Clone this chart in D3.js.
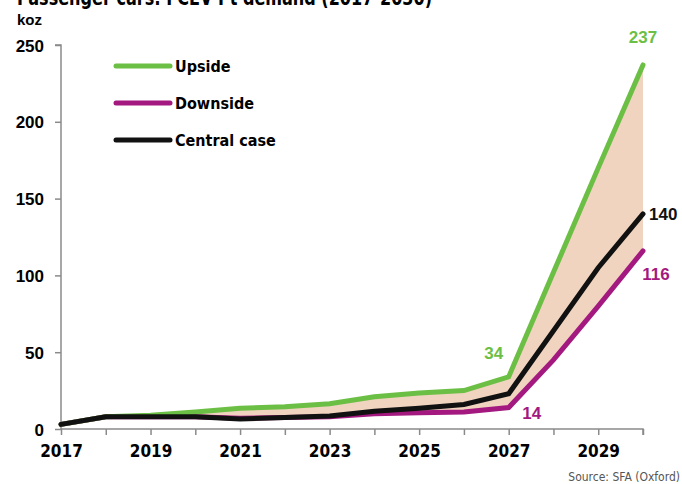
<!DOCTYPE html>
<html>
<head>
<meta charset="utf-8">
<script src="https://cdn.jsdelivr.net/npm/d3@7"></script>
<style>
body { margin: 0; background: #fff; }
svg { display: block; }
.narrow { font-family: 'DejaVu Sans Condensed', 'DejaVu Sans', sans-serif; font-stretch: condensed; }
</style>
</head>
<body>
<svg width="682" height="484"></svg>
<script>
var years = [2017, 2018, 2019, 2020, 2021, 2022, 2023, 2024, 2025, 2026, 2027, 2028, 2029, 2030];
var upside = [3, 8, 9, 11, 13.5, 14.5, 16.5, 21, 23.5, 25, 34, 102, 170, 237];
var downside = [3, 8, 8, 8, 7, 7.5, 8, 10, 10.5, 11, 14, 45, 80, 116];
var central = [3, 8, 8, 8, 6.5, 7.5, 8.5, 11.5, 13.5, 16, 23, 64, 105, 140];
var yTicks = [0, 50, 100, 150, 200, 250];
var xLabels = [2017, 2019, 2021, 2023, 2025, 2027, 2029];

var green = "#6cbf45", magenta = "#a3197f", black = "#111111";
var arial = "'Liberation Sans', Arial, sans-serif";

var svg = d3.select("svg");

var x = d3.scaleLinear().domain([2017, 2030]).range([61, 643]);
var y = d3.scaleLinear().domain([0, 250]).range([429, 45]);

// title (cut off at the top like the original)
svg.append("text")
	.attr("class", "narrow")
	.attr("x", 17)
	.attr("y", 5)
	.attr("textLength", 415)
	.attr("lengthAdjust", "spacingAndGlyphs")
	.style("font-weight", "bold")
	.style("font-size", "21px")
	.style("fill", "#000")
	.text("Passenger cars: FCEV Pt demand (2017-2030)");

svg.append("text")
	.attr("x", 17)
	.attr("y", 25)
	.style("font-family", arial)
	.style("font-weight", "bold")
	.style("font-size", "15px")
	.text("koz");

// shaded range
var area = d3.area()
	.x(function(d, i) { return x(years[i]); })
	.y0(function(d, i) { return y(downside[i]); })
	.y1(function(d, i) { return y(upside[i]); });

svg.append("path")
	.datum(years)
	.attr("d", area)
	.style("fill", "#f0d4bf");

// axes
var yAxis = d3.axisLeft(y).tickValues(yTicks).tickSize(6).tickFormat(d3.format("d"));
var gy = svg.append("g").attr("transform", "translate(61,0)").call(yAxis);
gy.select(".domain").attr("d", "M-6," + y(250) + "H0V" + y(0));

var xAxis = d3.axisBottom(x).tickValues(years).tickSize(6)
	.tickFormat(function(d) { return xLabels.indexOf(d) >= 0 ? d : ""; });
var gx = svg.append("g").attr("transform", "translate(0," + y(0) + ")").call(xAxis);

gy.selectAll("path, line").style("stroke", "#8a8a8a").style("stroke-width", 1.5);
gx.selectAll("path, line").style("stroke", "#8a8a8a").style("stroke-width", 1.5);
gx.select(".domain").attr("d", "M61,0H643V6");

gy.selectAll("text")
	.attr("x", -17)
	.attr("dy", "0.36em")
	.style("font-family", arial)
	.style("font-weight", "bold")
	.style("font-size", "17px")
	.style("fill", "#000");

gx.selectAll("text")
	.attr("class", "narrow")
	.attr("y", 14)
	.attr("dy", "0.8em")
	.style("font-weight", "bold")
	.style("font-size", "17px")
	.style("fill", "#000");
gx.attr("font-family", null);
gy.attr("font-family", null);

// lines
var line = d3.line()
	.x(function(d, i) { return x(years[i]); })
	.y(function(d) { return y(d); });

function drawLine(data, color) {
	svg.append("path")
		.datum(data)
		.attr("d", line)
		.style("fill", "none")
		.style("stroke", color)
		.style("stroke-width", 5)
		.style("stroke-linejoin", "miter")
		.style("stroke-linecap", "round");
}

drawLine(downside, magenta);
drawLine(upside, green);
drawLine(central, black);

// legend
var legend = [
	{ name: "Upside", color: green },
	{ name: "Downside", color: magenta },
	{ name: "Central case", color: black }
];

legend.forEach(function(d, i) {
	var ly = 66 + i * 37;
	svg.append("line")
		.attr("x1", 116).attr("x2", 170)
		.attr("y1", ly).attr("y2", ly)
		.style("stroke", d.color)
		.style("stroke-width", 5)
		.style("stroke-linecap", "round");
	svg.append("text")
		.attr("class", "narrow")
		.attr("x", 175)
		.attr("y", ly + 6)
		.style("font-weight", "bold")
		.style("font-size", "16px")
		.style("fill", "#000")
		.text(d.name);
});

// value labels
var last = years.length - 1;
var i27 = years.indexOf(2027);

function valueLabel(px, py, txt, color, anchor) {
	svg.append("text")
		.attr("x", px)
		.attr("y", py)
		.attr("text-anchor", anchor)
		.style("font-family", arial)
		.style("font-weight", "bold")
		.style("font-size", "17px")
		.style("fill", color)
		.text(txt);
}

valueLabel(x(years[last]), y(upside[last]) - 22, upside[last], green, "middle");
valueLabel(x(years[last]) + 6, y(central[last]) + 6, central[last], black, "start");
valueLabel(x(years[last]) + 13, y(downside[last]) + 29, downside[last], magenta, "middle");
valueLabel(x(years[i27]) - 15, y(upside[i27]) - 18, upside[i27], green, "middle");
valueLabel(x(years[i27]) + 23, y(downside[i27]) + 12, downside[i27], magenta, "middle");

svg.append("text")
	.attr("class", "narrow")
	.attr("x", 680)
	.attr("y", 481)
	.attr("text-anchor", "end")
	.style("font-size", "12px")
	.style("fill", "#555")
	.text("Source: SFA (Oxford)");
</script>
</body>
</html>
